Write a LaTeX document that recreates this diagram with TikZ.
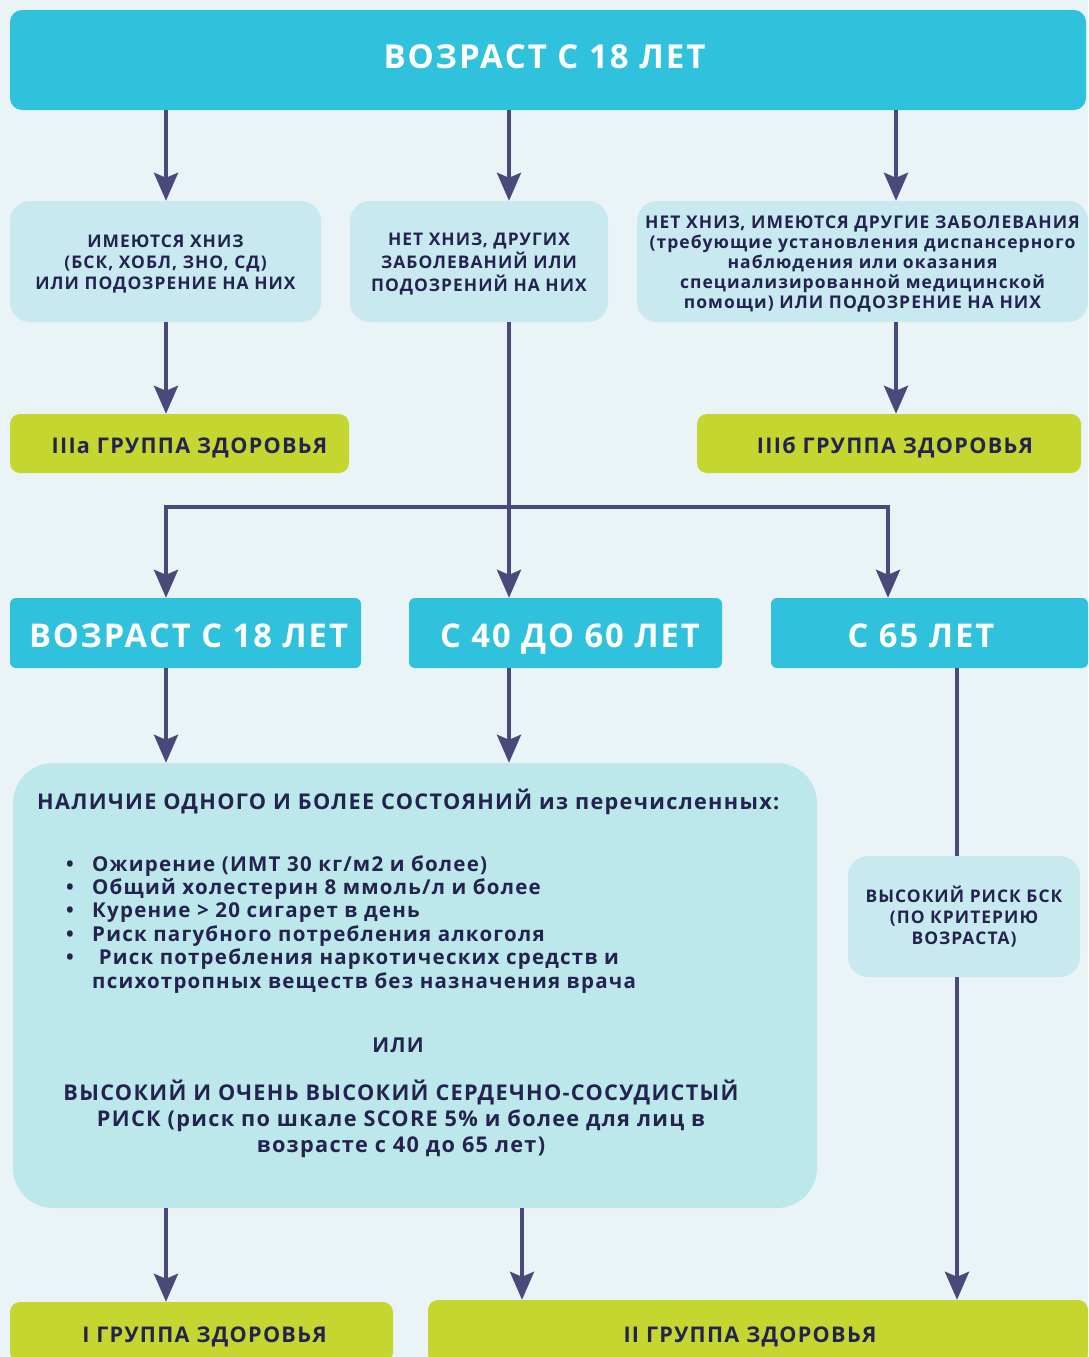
\documentclass[tikz,border=0pt]{standalone}
\usepackage{fontspec}
\setmainfont{Open Sans}
\newfontfamily\wideos{Open Sans}[LetterSpace=6]
\usetikzlibrary{arrows.meta}
\definecolor{bgcol}{HTML}{EAF4F6}
\definecolor{hdrcol}{HTML}{30C1DC}
\definecolor{lbcol}{HTML}{C8E9F0}
\definecolor{bigcol}{HTML}{BCE8EB}
\definecolor{grcol}{HTML}{C5D631}
\definecolor{arrcol}{HTML}{4A4A7A}
\definecolor{navy}{HTML}{24234F}
% lower a box without changing its size
\newcommand{\lowr}[2]{\raisebox{-#1}[\height][\depth]{#2}}
\begin{document}
\begin{tikzpicture}[x=1pt,y=-1pt,
  hdrbox/.style={fill=hdrcol, rounded corners=12pt, inner sep=0pt, text=white, text height=17.6pt, text depth=0pt, font=\wideos\bfseries\fontsize{33}{38}\selectfont},
  agebox/.style={fill=hdrcol, rounded corners=6pt, inner sep=0pt, text=white, text height=29.4pt, text depth=0pt, font=\wideos\bfseries\fontsize{32.7}{36}\selectfont},
  condbox/.style={fill=lbcol, rounded corners=20pt, inner sep=0pt, text=navy, font=\wideos\bfseries\fontsize{17.4}{21}\selectfont},
  grpbox/.style={fill=grcol, rounded corners=10pt, inner sep=0pt, text=navy, text height=20.4pt, text depth=0pt, font=\wideos\bfseries\fontsize{21.6}{25}\selectfont},
  bodytxt/.style={text=navy, inner sep=0pt, font=\wideos\bfseries\fontsize{20.5}{23.4}\selectfont},
  arr/.style={draw=arrcol, line width=4pt, -{Stealth[length=28pt,width=24pt,inset=5pt]}},
  wire/.style={draw=arrcol, line width=4pt}]
\useasboundingbox (0,0) rectangle (1088,1357);
\fill[bgcol] (0,0) rectangle (1088,1357);
% columns of the connectors
\coordinate (colA) at (166,0);
\coordinate (colB) at (509,0);
\coordinate (colC) at (896,0);
\coordinate (colF) at (888,0);
\coordinate (colG) at (957,0);
\coordinate (colM) at (522,0);
\coordinate (fork) at (509,507);
% top
\node[hdrbox, minimum width=1076, minimum height=100] (hdr) at (548,60) {ВОЗРАСТ С 18 ЛЕТ\hspace*{7pt}};
\node[condbox, minimum width=311, minimum height=121] (nhniz) at (165.5,261.5) {\lowr{3pt}{\begin{tabular}{@{}c@{}}ИМЕЮТСЯ ХНИЗ\\(БСК, ХОБЛ, ЗНО, СД)\\ИЛИ ПОДОЗРЕНИЕ НА НИХ\end{tabular}}};
\node[condbox, minimum width=258, minimum height=121] (nnet) at (479,261.5) {\lowr{3pt}{\begin{tabular}{@{}c@{}}НЕТ ХНИЗ, ДРУГИХ\\ЗАБОЛЕВАНИЙ ИЛИ\\ПОДОЗРЕНИЙ НА НИХ\end{tabular}}};
\node[condbox, minimum width=451, minimum height=121, font=\wideos\bfseries\fontsize{17.5}{20}\selectfont] (nother) at (862.5,261.5) {\lowr{3pt}{\begin{tabular}{@{}c@{}}НЕТ ХНИЗ, ИМЕЮТСЯ ДРУГИЕ ЗАБОЛЕВАНИЯ\\(требующие установления диспансерного\\наблюдения или оказания\\специализированной медицинской\\помощи) ИЛИ ПОДОЗРЕНИЕ НА НИХ\end{tabular}}};
\node[grpbox, minimum width=339, minimum height=59] (ngrIIIa) at (179.5,443.5) {\hspace*{20pt}IIIa ГРУППА ЗДОРОВЬЯ};
\node[grpbox, minimum width=384, minimum height=59] (ngrIIIb) at (889,443.5) {\hspace*{12pt}IIIб ГРУППА ЗДОРОВЬЯ};
% age boxes
\node[agebox, minimum width=351, minimum height=70] (nage18) at (185.5,633) {\hspace*{6pt}ВОЗРАСТ С 18 ЛЕТ};
\node[agebox, minimum width=313, minimum height=70] (nage40) at (565.5,633) {\hspace*{9pt}С 40 ДО 60 ЛЕТ};
\node[agebox, minimum width=317, minimum height=70] (nage65) at (929.5,633) {С 65 ЛЕТ\hspace*{17pt}};
% conditions
\node[fill=bigcol, rounded corners=40pt, minimum width=804, minimum height=445] (nstate) at (415,985.5) {};
\node[bodytxt, anchor=west, font=\wideos\bfseries\fontsize{21.7}{25}\selectfont] (nhead) at (37,802) {НАЛИЧИЕ ОДНОГО И БОЛЕЕ СОСТОЯНИЙ из перечисленных:};
\node[bodytxt, anchor=west] (nlist) at (66,925) {\begin{tabular}{@{}l@{}l@{}}
\makebox[26pt][l]{•} & Ожирение (ИМТ 30 кг/м2 и более)\\
• & Общий холестерин 8 ммоль/л и более\\
• & Курение > 20 сигарет в день\\
• & Риск пагубного потребления алкоголя\\
• & \ Риск потребления наркотических средств и\\
  & психотропных веществ без назначения врача
\end{tabular}};
\node[bodytxt] (nor) at (398,1045) {ИЛИ};
\node[bodytxt, align=center, font=\wideos\bfseries\fontsize{21.7}{26}\selectfont] (nscore) at (401,1119) {ВЫСОКИЙ И ОЧЕНЬ ВЫСОКИЙ СЕРДЕЧНО-СОСУДИСТЫЙ\\РИСК (риск по шкале SCORE 5\% и более для лиц в\\возрасте с 40 до 65 лет)};
\node[condbox, minimum width=232, minimum height=121] (nbsk) at (964,916.5) {\lowr{2pt}{\begin{tabular}{@{}c@{}}ВЫСОКИЙ РИСК БСК\\(ПО КРИТЕРИЮ\\ВОЗРАСТА)\end{tabular}}};
% bottom
\node[grpbox, minimum width=383, minimum height=60] (ngrI) at (201.5,1332) {\hspace*{6pt}I ГРУППА ЗДОРОВЬЯ};
\node[grpbox, minimum width=660, minimum height=64] (ngrII) at (758,1332) {II ГРУППА ЗДОРОВЬЯ\hspace*{16pt}};
% connectors
\draw[arr] (hdr.south -| colA) -- (nhniz.north -| colA);
\draw[arr] (hdr.south -| colB) -- (nnet.north -| colB);
\draw[arr] (hdr.south -| colC) -- (nother.north -| colC);
\draw[arr] (nhniz.south -| colA) -- (ngrIIIa.north -| colA);
\draw[arr] (nother.south -| colC) -- (ngrIIIb.north -| colC);
\draw[arr] (nnet.south -| colB) -- (nage40.north -| colB);
\draw[arr] (fork) -| (nage18.north -| colA);
\draw[arr] (fork) -| (nage65.north -| colF);
\draw[arr] (nage18.south -| colA) -- (nstate.north -| colA);
\draw[arr] (nage40.south -| colB) -- (nstate.north -| colB);
\draw[wire] (nage65.south -| colG) -- (nbsk.north -| colG);
\draw[arr] (nbsk.south -| colG) -- (ngrII.north -| colG);
\draw[arr] (nstate.south -| colA) -- (ngrI.north -| colA);
\draw[arr] (nstate.south -| colM) -- (ngrII.north -| colM);
\end{tikzpicture}
\end{document}
